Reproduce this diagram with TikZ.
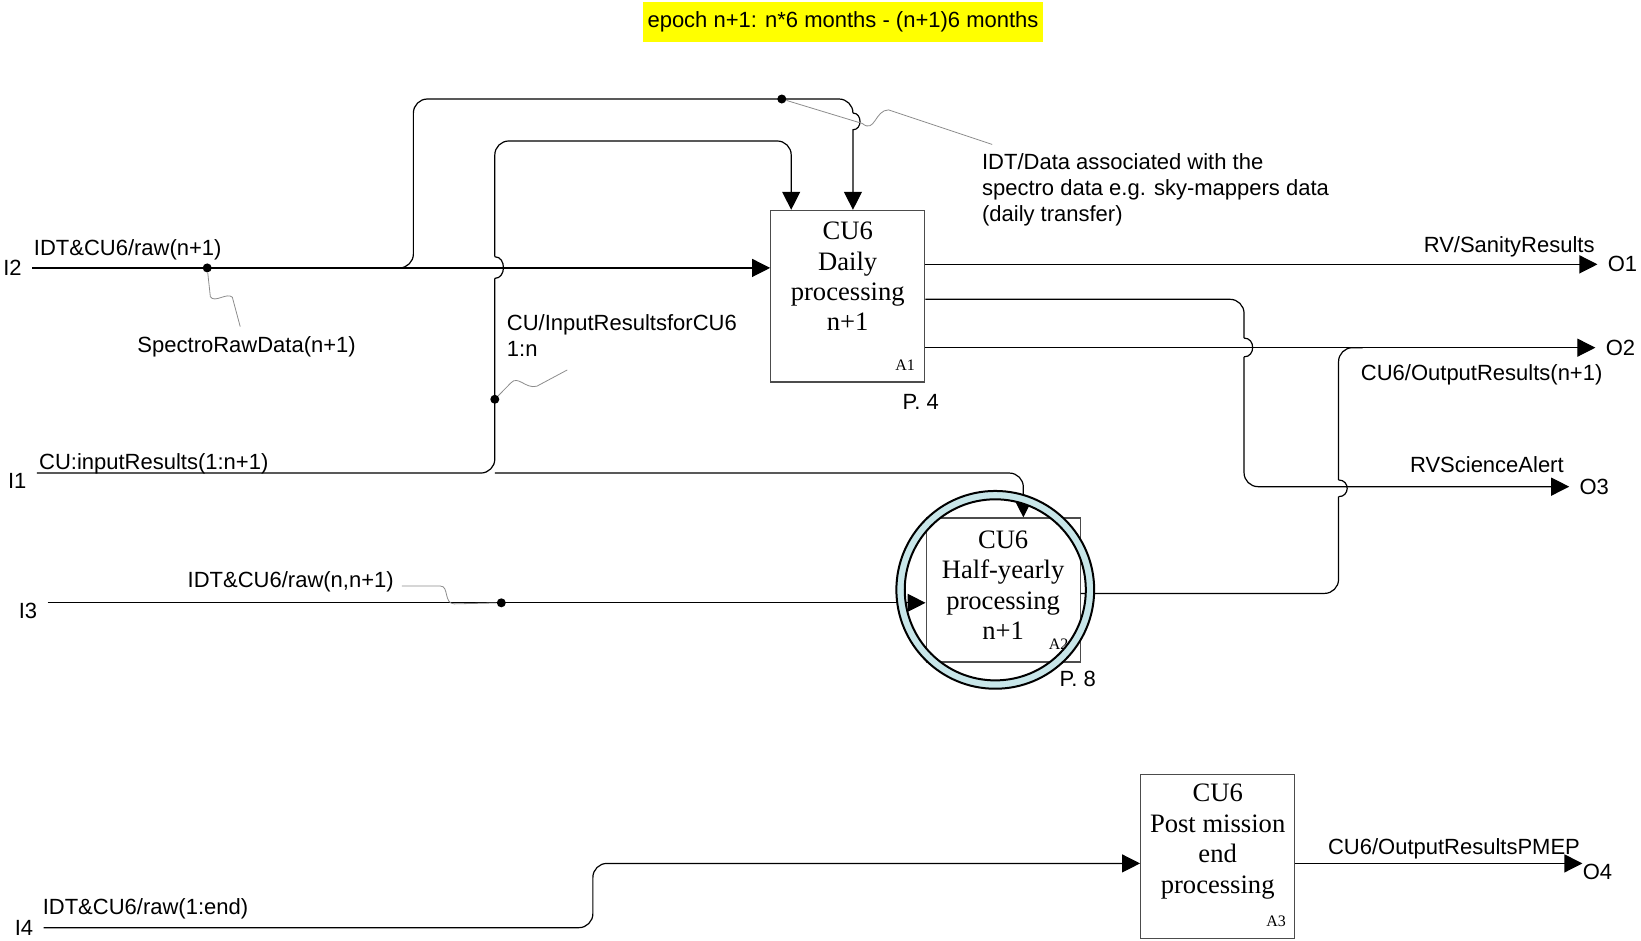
\documentclass[tikz,border=0pt]{standalone}
\usepackage{fontspec}
\setmainfont{Liberation Serif}
\setsansfont{Liberation Sans}
\usetikzlibrary{arrows.meta,positioning}

\definecolor{ringblue}{RGB}{200,230,233}
\definecolor{notepad}{RGB}{255,255,0}

\begin{document}
\begin{tikzpicture}[
        x=0.5233pt, y=-0.5233pt,
        flow/.style={-{Triangle[length=9pt,width=9pt]}, line width=0.6pt},
        wire/.style={line width=0.6pt, rounded corners=7pt},
        hop/.style={line width=0.6pt},
        leader/.style={black!45, line width=0.4pt},
        lbl/.style={font=\sffamily\fontsize{11}{13}\selectfont, inner sep=0pt, align=left},
        port/.style={lbl, inner xsep=5pt},
        act/.style={draw=black!70, line width=0.6pt, minimum width=77pt},
        acttext/.style={font=\fontsize{13.3}{15.2}\selectfont, align=center, inner sep=0pt},
        tag/.style={font=\fontsize{8}{8}\selectfont, inner sep=0pt},
        dot/.style={circle, fill=black, inner sep=0pt, minimum size=4.5pt}
    ]

    \useasboundingbox (0,0) rectangle (1568,899);

    % title
    \node[lbl, fill=notepad, minimum width=200.4pt, minimum height=19.9pt, align=center]
        (epoch) at (805.5,21) {epoch n+1: n*6 months - (n+1)6 months};

    % activities
    \node[act, minimum height=85.8pt] (a1) at (810,283) {};
    \node[acttext, below=6pt of a1.north] (a1_text) {CU6\\Daily\\processing\\n+1};
    \node[tag, above left=6pt and 5pt of a1.south east] (a1_tag) {A1};

    \node[act, minimum height=72pt] (a2) at (958.5,563.7) {};
    \node[acttext, below=6.5pt of a2.north] (a2_text) {CU6\\Half-yearly\\processing\\n+1};
    \node[tag, above left=6.5pt and 6pt of a2.south east] (a2_tag) {A2};

    \node[act, minimum height=82.2pt] (a3) at (1163.5,818.5) {};
    \node[acttext, below=5pt of a3.north] (a3_text) {CU6\\Post mission\\end\\processing};
    \node[tag, above left=6pt and 4.5pt of a3.south east] (a3_tag) {A3};

    \node[lbl, anchor=west] (p4) at (862,384) {P. 4};
    \node[lbl, anchor=west] (p8) at (1012,649) {P. 8};

    % ports
    \node[port, anchor=east] (in2) at (30.6,256) {I2};
    \node[port, anchor=north east] (in1) at (35.2,452) {I1};
    \node[port, anchor=north east] (in3) at (45.4,576) {I3};
    \node[port, anchor=east] (in4) at (41.6,886.4) {I4};

    \node[port, anchor=west] (o1) at (1526.4,252.6) {O1};
    \node[port, anchor=west] (o2) at (1524.4,332.2) {O2};
    \node[port, anchor=west] (o3) at (1499.4,465) {O3};
    \node[port, inner xsep=0pt, anchor=north west] (o4) at (1512,825) {O4};

    % arrow labels
    \node[lbl, anchor=west] (raw_n1) at (32,239) {IDT\&CU6/raw(n+1)};
    \node[lbl, anchor=west] (spectro) at (131,331) {SpectroRawData(n+1)};
    \node[lbl, anchor=west] (cu_in) at (37,443) {CU:inputResults(1:n+1)};
    \node[lbl, anchor=west] (raw_nn1) at (179,556) {IDT\&CU6/raw(n,n+1)};
    \node[lbl, anchor=west] (raw_end) at (40.5,868) {IDT\&CU6/raw(1:end)};
    \node[lbl, anchor=north west] (cu6_in) at (484,300) {CU/InputResultsforCU6\\1:n};
    \node[lbl, anchor=north west] (idt_data) at (938,146)
        {IDT/Data associated with the\\spectro data e.g. sky-mappers data\\(daily transfer)};
    \node[lbl, anchor=east] (sanity) at (1524,236) {RV/SanityResults};
    \node[lbl, anchor=west] (out_res) at (1300,358) {CU6/OutputResults(n+1)};
    \node[lbl, anchor=east] (alert) at (1494.5,444) {RVScienceAlert};
    \node[lbl, anchor=west] (pmep) at (1268.6,811) {CU6/OutputResultsPMEP};

    % I2
    \draw[flow]
        (in2.east) --
        (in2.east -| a1.west);

    \coordinate (j2) at (375,256);
    \coordinate (hop1) at (815,108);
    \draw[wire]
        (j2) --
        (395,256) --
        (395,94.6) --
        (815,94.6) --
        (hop1);
    \draw[flow]
        (hop1) .. controls +(9,0) and +(9,0) .. +(0,16) --
        (a1.north -| hop1);

    % I1
    \coordinate (j1) at (472.8,452);
    \coordinate (hop0) at (472.8,266);
    \draw[wire]
        (in1.north east) --
        (j1) --
        (hop0);
    \draw[hop]
        (hop0) .. controls +(11,0) and +(11,0) .. (472.8,245.3);
    \draw[wire, flow]
        (472.8,245.3) --
        (472.8,134.7) --
        (756,134.7) --
        (a1.north -| 756,0);

    \draw[wire, flow]
        (j1) --
        (977.8,452) --
        (a2.north -| 977.8,0);

    % I3
    \draw[flow]
        (in3.north east) --
        (in3.north east -| a2.west);

    % I4
    \draw[wire, flow]
        (in4.east) --
        (566.5,886.4) --
        (566.5,825) --
        (a3.west |- o4.north west);

    % outputs of A1
    \draw[flow]
        (a1.east |- o1.west) --
        (o1.west);
    \draw[flow]
        (a1.east |- o2.west) --
        (o2.west);

    \coordinate (hop2) at (1188.7,323);
    \draw[wire]
        (a1.east |- 0,286) --
        (1188.7,286) --
        (hop2);
    \draw[hop]
        (hop2) .. controls +(11,0) and +(11,0) .. (1188.7,341);
    \draw[wire, flow]
        (1188.7,341) --
        (1188.7,465) --
        (o3.west);

    % output of A2
    \coordinate (hop3) at (1279,474.6);
    \coordinate (m2) at (1302,332.2);
    \draw[wire]
        (a2.east |- 0,567) --
        (1279,567) --
        (hop3);
    \draw[hop]
        (hop3) .. controls +(11,0) and +(11,0) .. (1279,458.6);
    \draw[wire]
        (1279,458.6) --
        (1279,332.2) --
        (m2);

    % output of A3
    \draw[flow]
        (a3.east |- o4.north west) --
        (o4.north west);

    % tunnel dots and leaders
    \node[dot] (d_raw) at (198,256) {};
    \node[dot] (d_idt) at (747,94.6) {};
    \node[dot] (d_cuin) at (472.8,381.5) {};
    \node[dot] (d_raw3) at (479,576) {};

    \draw[leader]
        (d_raw) --
        (201,283.5) .. controls (205,290) and (217,279) .. (222,284) --
        (229.5,312);
    \draw[leader]
        (d_idt) --
        (824,118) .. controls (836,128) and (836,105) .. (849,105) --
        (948,138);
    \draw[leader]
        (d_cuin) --
        (488,366) .. controls (495,358) and (502,372) .. (513,369) --
        (542,353.5);
    \draw[leader]
        (384,560) --
        (421,560) .. controls (429,560) and (424,577) .. (434,577) --
        (d_raw3);

    % highlight
    \draw[line width=1pt, fill=ringblue, even odd rule]
        (951,563.6) circle[radius=49.45pt] circle[radius=45.27pt];

\end{tikzpicture}
\end{document}
